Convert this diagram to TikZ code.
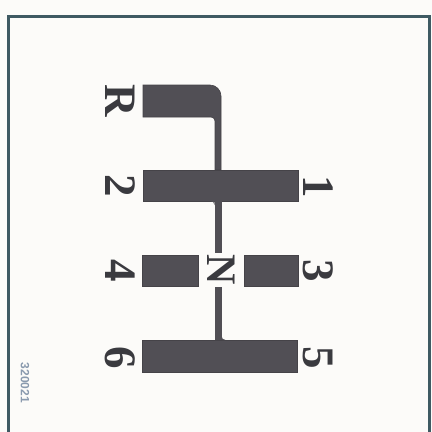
\documentclass[tikz,border=0pt]{standalone}
\usepackage{fontspec}
\setmainfont{Liberation Serif}
\newfontfamily\codefont{Liberation Sans}
\definecolor{bgc}{HTML}{FCFBF9}
\definecolor{framec}{HTML}{3F5A63}
\definecolor{gatec}{HTML}{514F55}
\definecolor{labc}{HTML}{3A3A3F}
\definecolor{codec}{HTML}{8A9AAE}
\tikzset{
  gatebox/.style={fill=gatec, draw=gatec!85!black, line width=0.6pt, inner sep=0pt},
  lab/.style={font=\bfseries\fontsize{45}{45}\selectfont, rotate=-90, text=labc, inner sep=0pt},
  stem/.style={fill=gatec}
}
\begin{document}
\begin{tikzpicture}[x=1pt,y=-1pt]
\useasboundingbox (0,0) rectangle (432,432);
\clip (0,0) rectangle (432,432);
\fill[bgc] (0,0) rectangle (432,432);
% frame
\draw[framec, line width=3pt] (8.5,445) |- (429.5,16.5) -- (429.5,445);
% reverse gate with stem
\filldraw[fill=gatec, draw=gatec!85!black, line width=0.6pt]
  (143,85) -- (210,85) arc[start angle=-90, end angle=0, radius=11] -- (221,170)
  -- (215,170) -- (215,121) arc[start angle=0, end angle=-90, radius=4] -- (143,117) -- cycle;
% gate boxes
\node[gatebox, minimum width=155pt, minimum height=31pt] (b12) at (220.5,185.5) {};
\node[gatebox, minimum width=56pt, minimum height=31pt] (b4) at (170,270.5) {};
\node[gatebox, minimum width=54pt, minimum height=31pt] (b3) at (271,270.5) {};
\node[gatebox, minimum width=155pt, minimum height=32pt] (b56) at (219.5,356) {};
% stems
\coordinate (s1) at (214.5,201);
\coordinate (s2) at (221.5,253);
\coordinate (s3) at (214.5,287);
\coordinate (s4) at (221.5,340);
\fill[stem] (s1) rectangle (s2);
\fill[stem] (s3) rectangle (s4);
\fill[stem] (221.5,336) arc[start angle=180, end angle=90, radius=4] -- (221.5,340) -- cycle;
\fill[stem] (210.5,201) arc[start angle=-90, end angle=0, radius=4] -- (214.5,201) -- cycle;
% labels
\node[lab] (lR) at (120,101) {R};
\node[lab] (l2) at (120,186) {2};
\node[lab] (l4) at (120,271) {4};
\node[lab] (l6) at (120,358) {6};
\node[lab] (l1) at (318,187) {1};
\node[lab] (l3) at (318,271) {3};
\node[lab] (l5) at (318,358) {5};
\node[lab, font=\bfseries\fontsize{42}{42}\selectfont] (lN) at (221,270) {N};
% code
\node[font=\codefont\bfseries\fontsize{12}{12}\selectfont, rotate=-90, text=codec, inner sep=0pt] (code) at (25,383) {320021};
\end{tikzpicture}
\end{document}
